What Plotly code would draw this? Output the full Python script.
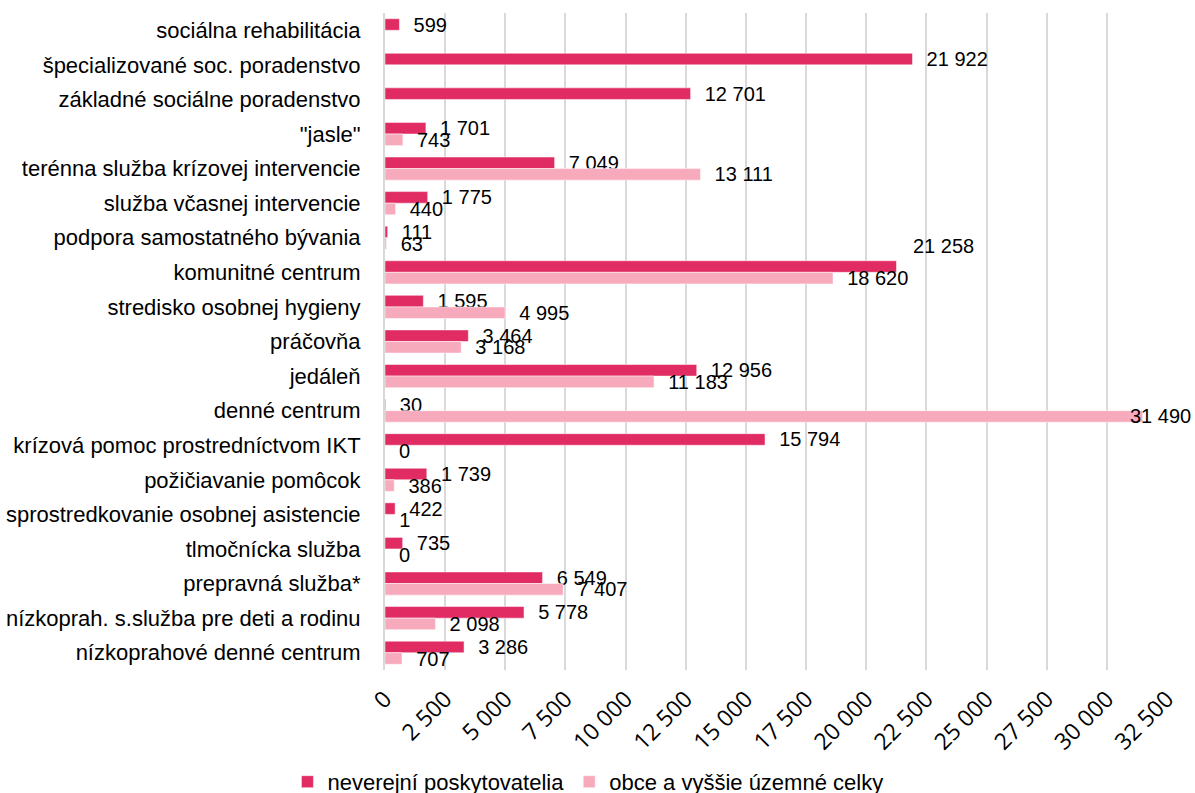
import plotly.graph_objects as go

categories = [
    "sociálna rehabilitácia",
    "špecializované soc. poradenstvo",
    "základné sociálne poradenstvo",
    "\"jasle\"",
    "terénna služba krízovej intervencie",
    "služba včasnej intervencie",
    "podpora samostatného bývania",
    "komunitné centrum",
    "stredisko osobnej hygieny",
    "práčovňa",
    "jedáleň",
    "denné centrum",
    "krízová pomoc prostredníctvom IKT",
    "požičiavanie pomôcok",
    "sprostredkovanie osobnej asistencie",
    "tlmočnícka služba",
    "prepravná služba*",
    "nízkoprah. s.služba pre deti a rodinu",
    "nízkoprahové denné centrum",
]
neverejni = [599, 21922, 12701, 1701, 7049, 1775, 111, 21258, 1595, 3464,
             12956, 30, 15794, 1739, 422, 735, 6549, 5778, 3286]
obce = [None, None, None, 743, 13111, 440, 63, 18620, 4995, 3168,
        11183, 31490, 0, 386, 1, 0, 7407, 2098, 707]
series_names = ["neverejní poskytovatelia", "obce a vyššie územné celky"]
tick_vals = [0, 2500, 5000, 7500, 10000, 12500, 15000, 17500, 20000,
             22500, 25000, 27500, 30000, 32500]

DARK = "#E02B63"
LIGHT = "#F8AABD"
FONT = "Liberation Sans, Arial"
NB = "\u00a0\u00a0"


def fmt(v):
    return f"{v:,}".replace(",", " ")


# labels moved manually in the original
special_dark = {"komunitné centrum"}
special_light = {"denné centrum"}

text_dark = ["" if c in special_dark else NB + fmt(v)
             for c, v in zip(categories, neverejni)]
text_light = ["" if (v is None or c in special_light) else NB + fmt(v)
              for c, v in zip(categories, obce)]

fig = go.Figure()
fig.add_trace(go.Bar(
    y=categories, x=neverejni, orientation="h", name=series_names[0],
    marker=dict(color=DARK, line=dict(color="rgba(255,255,255,0.5)", width=1)),
    text=text_dark, textposition="outside", cliponaxis=False,
    constraintext="none",
    textfont=dict(family=FONT, size=20, color="#000000"),
    hoverinfo="x+y",
))
fig.add_trace(go.Bar(
    y=categories, x=obce, orientation="h", name=series_names[1],
    marker=dict(color=LIGHT, line=dict(color="rgba(255,255,255,0.5)", width=1)),
    text=text_light, textposition="outside", cliponaxis=False,
    constraintext="none",
    textfont=dict(family=FONT, size=20, color="#000000"),
    hoverinfo="x+y",
))

annotations = []
for c, v in zip(categories, neverejni):
    if c in special_dark:
        annotations.append(dict(x=v, y=c, xref="x", yref="y", text=fmt(v),
                                showarrow=False, xanchor="left", yanchor="middle",
                                xshift=14, yshift=26,
                                font=dict(family=FONT, size=20, color="#000000")))
for c, v in zip(categories, obce):
    if c in special_light:
        annotations.append(dict(x=v, y=c, xref="x", yref="y", text=fmt(v),
                                showarrow=False, xanchor="left", yanchor="middle",
                                xshift=-15, yshift=-5,
                                font=dict(family=FONT, size=20, color="#000000")))

fig.update_layout(
    width=1195, height=793,
    paper_bgcolor="white", plot_bgcolor="white",
    margin=dict(l=385, r=28, t=13, b=123, autoexpand=False),
    barmode="group", bargap=0.33, bargroupgap=0,
    separators=", ",
    font=dict(family=FONT, size=20, color="#000000"),
    xaxis=dict(
        range=[0, 32500], tickvals=tick_vals, tickformat=",d",
        tickangle=-45, showgrid=True, gridcolor="#D9D9D9", gridwidth=2,
        zeroline=False, showline=False, ticks="",
        ticklabelstandoff=10,
        tickfont=dict(family="Open Sans, DejaVu Sans", size=23, color="#000000"),
    ),
    yaxis=dict(
        autorange="reversed", showgrid=False, showline=True,
        linecolor="#D9D9D9", linewidth=2, ticks="",
        ticklabelstandoff=18,
        tickfont=dict(family=FONT, size=22, color="#000000"),
    ),
    legend=dict(
        orientation="h", xref="container", yref="container",
        x=0.492, xanchor="center", y=0.014, yanchor="middle",
        font=dict(family=FONT, size=22, color="#000000"),
        itemwidth=30, traceorder="normal",
    ),
    annotations=annotations,
    showlegend=True,
)

fig.write_html("out.html", config={"displayModeBar": False},
               post_script="document.body.style.margin='0';")
